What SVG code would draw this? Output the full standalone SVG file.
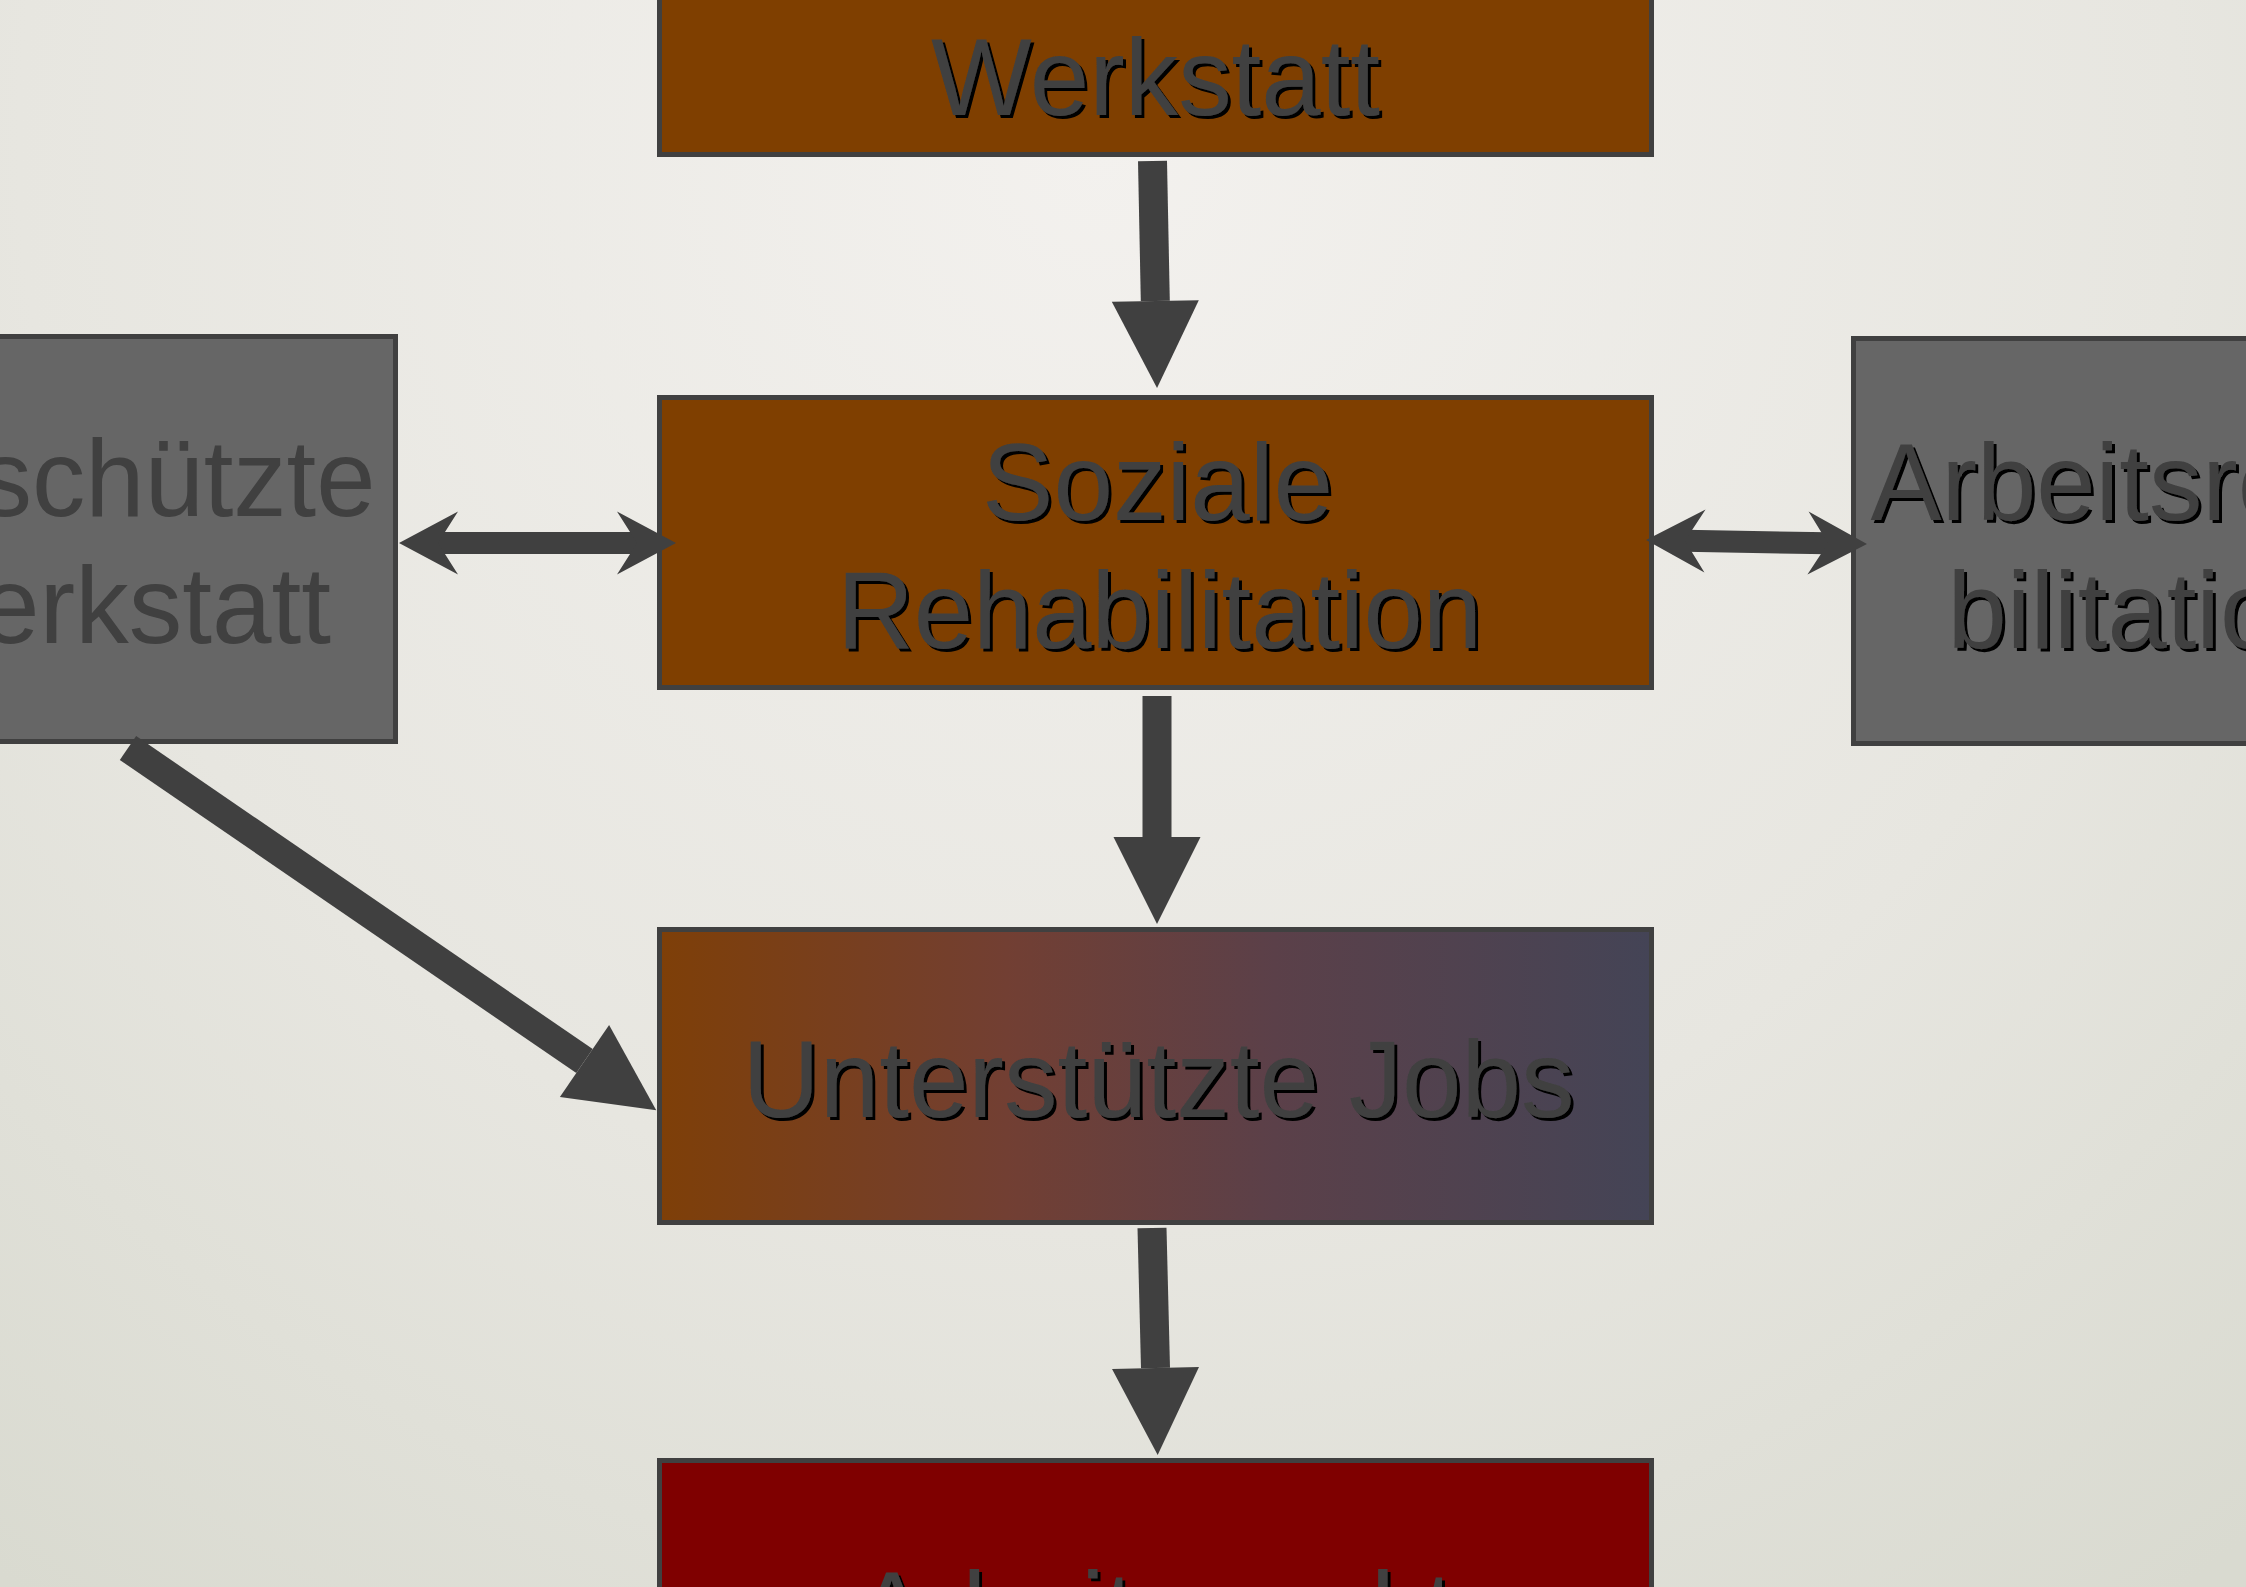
<svg xmlns="http://www.w3.org/2000/svg" width="2246" height="1587" viewBox="0 0 2246 1587">
  <defs>
    <radialGradient id="bg" cx="1100" cy="150" r="1800" gradientUnits="userSpaceOnUse">
      <stop offset="0" stop-color="#f3f1ee"/>
      <stop offset="0.6" stop-color="#e7e6e0"/>
      <stop offset="1" stop-color="#d9dad0"/>
    </radialGradient>
    <linearGradient id="jobs" x1="0" y1="0" x2="1" y2="0">
      <stop offset="0" stop-color="#7e3f08"/>
      <stop offset="0.35" stop-color="#723f33"/>
      <stop offset="0.62" stop-color="#5b4049"/>
      <stop offset="1" stop-color="#444456"/>
    </linearGradient>
    <filter id="shadow" x="-5%" y="-20%" width="110%" height="140%">
      <feDropShadow dx="3" dy="3" stdDeviation="0" flood-color="#000000" flood-opacity="1"/>
    </filter>
    <marker id="tri" markerUnits="userSpaceOnUse" markerWidth="87" markerHeight="87" viewBox="0 -43.5 87 87" refX="0" refY="0" orient="auto" overflow="visible">
      <path d="M0,-43.5 L87,0 L0,43.5 Z" fill="#404040"/>
    </marker>
    <marker id="barb" markerUnits="userSpaceOnUse" markerWidth="59" markerHeight="63" viewBox="0 -31.5 59 63" refX="20" refY="0" orient="auto-start-reverse" overflow="visible">
      <path d="M59,0 L0,-31.5 L20,0 L0,31.5 Z" fill="#404040"/>
    </marker>
  </defs>
  <style>
    .box { stroke: #404040; stroke-width: 5; }
    .brown { fill: #7f3f00; }
    .grey { fill: #666666; }
    .red { fill: #7f0000; }
    .t { font-family: "Liberation Sans", Arial, sans-serif; font-size: 109px; fill: #404040; text-anchor: middle; }
    .sh { filter: url(#shadow); }
    .conn line { stroke: #404040; fill: none; }
    .v { stroke-width: 29; marker-end: url(#tri); }
    .d { stroke-width: 22; marker-start: url(#barb); marker-end: url(#barb); }
  </style>

  <rect x="0" y="0" width="2246" height="1587" fill="url(#bg)"/>

  <g id="node-werkstatt">
    <rect class="box brown" x="659.5" y="-140" width="992" height="294.5"/>
    <text class="t sh" x="1155.5" y="115" textLength="449" lengthAdjust="spacingAndGlyphs">Werkstatt</text>
  </g>

  <g id="node-soziale-rehabilitation">
    <rect class="box brown" x="659.5" y="397.5" width="992" height="290"/>
    <text class="t sh" x="1157.5" y="520" textLength="351" lengthAdjust="spacingAndGlyphs">Soziale</text>
    <text class="t sh" x="1159.5" y="648" textLength="645" lengthAdjust="spacingAndGlyphs">Rehabilitation</text>
  </g>

  <g id="node-unterstuetzte-jobs">
    <rect class="box" x="659.5" y="929.5" width="992" height="293" fill="url(#jobs)"/>
    <text class="t sh" x="1158.5" y="1117" textLength="832" lengthAdjust="spacingAndGlyphs">Unterstützte Jobs</text>
  </g>

  <g id="node-arbeitsmarkt">
    <rect class="box red" x="659.5" y="1460.5" width="992" height="294"/>
    <text class="t sh" x="1155" y="1648" textLength="598" lengthAdjust="spacingAndGlyphs">Arbeitsmarkt</text>
  </g>

  <g id="node-geschuetzte-werkstatt">
    <rect class="box grey" x="-190" y="336.5" width="585.5" height="405"/>
    <text class="t" x="106" y="516" textLength="539" lengthAdjust="spacingAndGlyphs">Geschützte</text>
    <text class="t" x="106" y="643" textLength="450" lengthAdjust="spacingAndGlyphs">Werkstatt</text>
  </g>

  <g id="node-arbeitsrehabilitation">
    <rect class="box grey" x="1853.5" y="338.5" width="600" height="405"/>
    <text class="t sh" x="2143" y="520" textLength="545" lengthAdjust="spacingAndGlyphs">Arbeitsreha</text>
    <text class="t sh" x="2143" y="648" textLength="391" lengthAdjust="spacingAndGlyphs">bilitation</text>
  </g>

  <g id="connectors" class="conn">
    <line class="v" x1="1152.5" y1="161" x2="1155.3" y2="301"/>
    <line class="v" x1="1157" y1="696" x2="1157" y2="837"/>
    <line class="v" x1="1152" y1="1228" x2="1155.5" y2="1368"/>
    <line class="v" x1="128" y1="748" x2="584.5" y2="1061"/>
    <line class="d" x1="438" y1="543" x2="637" y2="543"/>
    <line class="d" x1="1685" y1="540.7" x2="1828" y2="543.3"/>
  </g>
</svg>
